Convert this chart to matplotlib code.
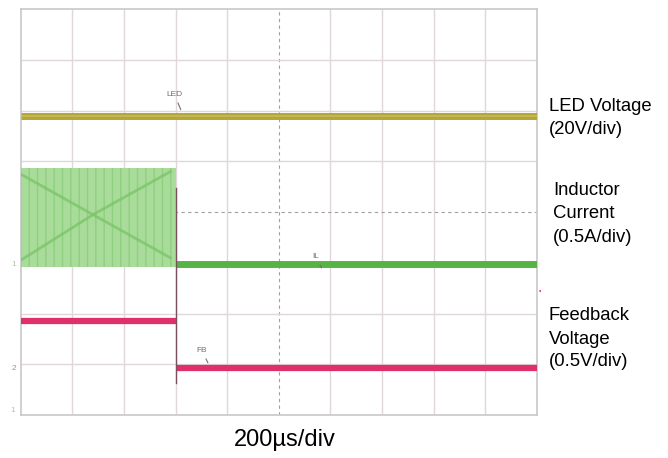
import matplotlib
matplotlib.use("Agg")
import matplotlib.pyplot as plt

plt.rcParams['font.family'] = ['Liberation Sans', 'DejaVu Sans']

# time in divisions (200us/div), levels in divisions from the bottom of the screen
n_xdiv = 10
n_ydiv = 8
step_t = 3.0

led_t = [0.0, 10.0]
led_v = [5.89, 5.89]

il_band_t = [0.0, 3.0]
il_band_top = [4.88, 4.88]
il_band_bot = [2.92, 2.92]
il_t = [3.0, 10.0]
il_v = [2.98, 2.98]

# aliasing pattern seen inside the switching band
alias1_t = [0.0, 1.4, 2.9]
alias1_y = [4.75, 3.95, 3.1]
alias2_t = [0.0, 1.4, 2.9]
alias2_y = [3.05, 3.95, 4.8]

fb_t = [0.0, 3.0, 3.0, 10.0]
fb_v = [1.85, 1.85, 0.93, 0.93]

step_line_y = [4.47, 0.63]

fig = plt.figure(figsize=(6.68, 4.58), dpi=100)
ax = fig.add_axes([20.7 / 668, 1 - 415 / 458, (537 - 20.7) / 668, (415 - 9.3) / 458])
ax.set_xlim(0, n_xdiv)
ax.set_ylim(0, n_ydiv)

# graticule
for i in range(1, n_xdiv):
    if i == 5:
        ax.axvline(i, color='#a0a0a0', lw=0.8, ls=(0, (3, 3)), zorder=1)
    else:
        ax.axvline(i, color='#e0d8d8', lw=1.0, zorder=1)
for j in range(1, n_ydiv):
    if j == 4:
        ax.axhline(j, color='#a0a0a0', lw=0.8, ls=(0, (3, 3)), zorder=1)
    else:
        ax.axhline(j, color='#e0d8d8', lw=1.0, zorder=1)
for s in ax.spines.values():
    s.set_color('#c8c8c8')
    s.set_linewidth(1.2)
ax.set_xticks([])
ax.set_yticks([])

# LED voltage
ax.plot(led_t, led_v, color='#b3a634', lw=5, solid_capstyle='butt', zorder=4)
ax.plot(led_t, led_v, color='#cfc46a', lw=1.2, zorder=5, alpha=0.7)

# inductor current
ax.fill_between(il_band_t, il_band_bot, il_band_top, facecolor='#a9dc9a',
                edgecolor='#8fd080', hatch='||', lw=0, zorder=3)
ax.plot(alias1_t, alias1_y, color='#78c266', lw=2.0, alpha=0.7, zorder=3)
ax.plot(alias2_t, alias2_y, color='#78c266', lw=2.0, alpha=0.7, zorder=3)
ax.plot(il_t, il_v, color='#55b443', lw=5, solid_capstyle='butt', zorder=4)

# feedback voltage
ax.plot(fb_t[:2], fb_v[:2], color='#e0306c', lw=4.5, solid_capstyle='butt', zorder=4)
ax.plot(fb_t[2:], fb_v[2:], color='#e0306c', lw=4.5, solid_capstyle='butt', zorder=4)

# step edge
ax.plot([step_t, step_t], step_line_y, color='#7a5060', lw=1.0, zorder=5)

# trace tags
ax.annotate('LED', xy=(3.12, 5.97), xytext=(2.82, 6.3), fontsize=6, color='#707070',
            arrowprops=dict(arrowstyle='-', color='#707070', lw=0.8), zorder=6)
ax.annotate('IL', xy=(5.85, 2.85), xytext=(5.65, 3.1), fontsize=6, color='#707070',
            arrowprops=dict(arrowstyle='-', color='#707070', lw=0.8), zorder=6)
ax.annotate('FB', xy=(3.65, 0.98), xytext=(3.4, 1.25), fontsize=6, color='#707070',
            arrowprops=dict(arrowstyle='-', color='#707070', lw=0.8), zorder=6)

# channel markers on the left
fig.text(14 / 668, 1 - 264 / 458, '1', fontsize=6, color='#a8c8a0', ha='center', va='center')
fig.text(14 / 668, 1 - 368 / 458, '2', fontsize=6, color='#e07090', ha='center', va='center')
fig.text(13 / 668, 1 - 411 / 458, '1', fontsize=6, color='#c8c070', ha='center', va='center')

# right side captions
fs = 13.3
fig.text(549 / 668, 1 - 107 / 458, 'LED Voltage', fontsize=fs, va='center')
fig.text(549 / 668, 1 - 130 / 458, '(20V/div)', fontsize=fs, va='center')
fig.text(553 / 668, 1 - 191 / 458, 'Inductor', fontsize=fs, va='center')
fig.text(553 / 668, 1 - 214 / 458, 'Current', fontsize=fs, va='center')
fig.text(553 / 668, 1 - 238 / 458, '(0.5A/div)', fontsize=fs, va='center')
fig.text(549 / 668, 1 - 316 / 458, 'Feedback', fontsize=fs, va='center')
fig.text(549 / 668, 1 - 339 / 458, 'Voltage', fontsize=fs, va='center')
fig.text(549 / 668, 1 - 362 / 458, '(0.5V/div)', fontsize=fs, va='center')
fig.text(285 / 668, 1 - 440 / 458, '200µs/div', fontsize=17, ha='center', va='center')

# small markers (trigger / level)
fig.text(540 / 668, 1 - 292 / 458, '•', fontsize=5, color='#e0306c', ha='center', va='center')

fig.savefig('out.png', dpi=100)
